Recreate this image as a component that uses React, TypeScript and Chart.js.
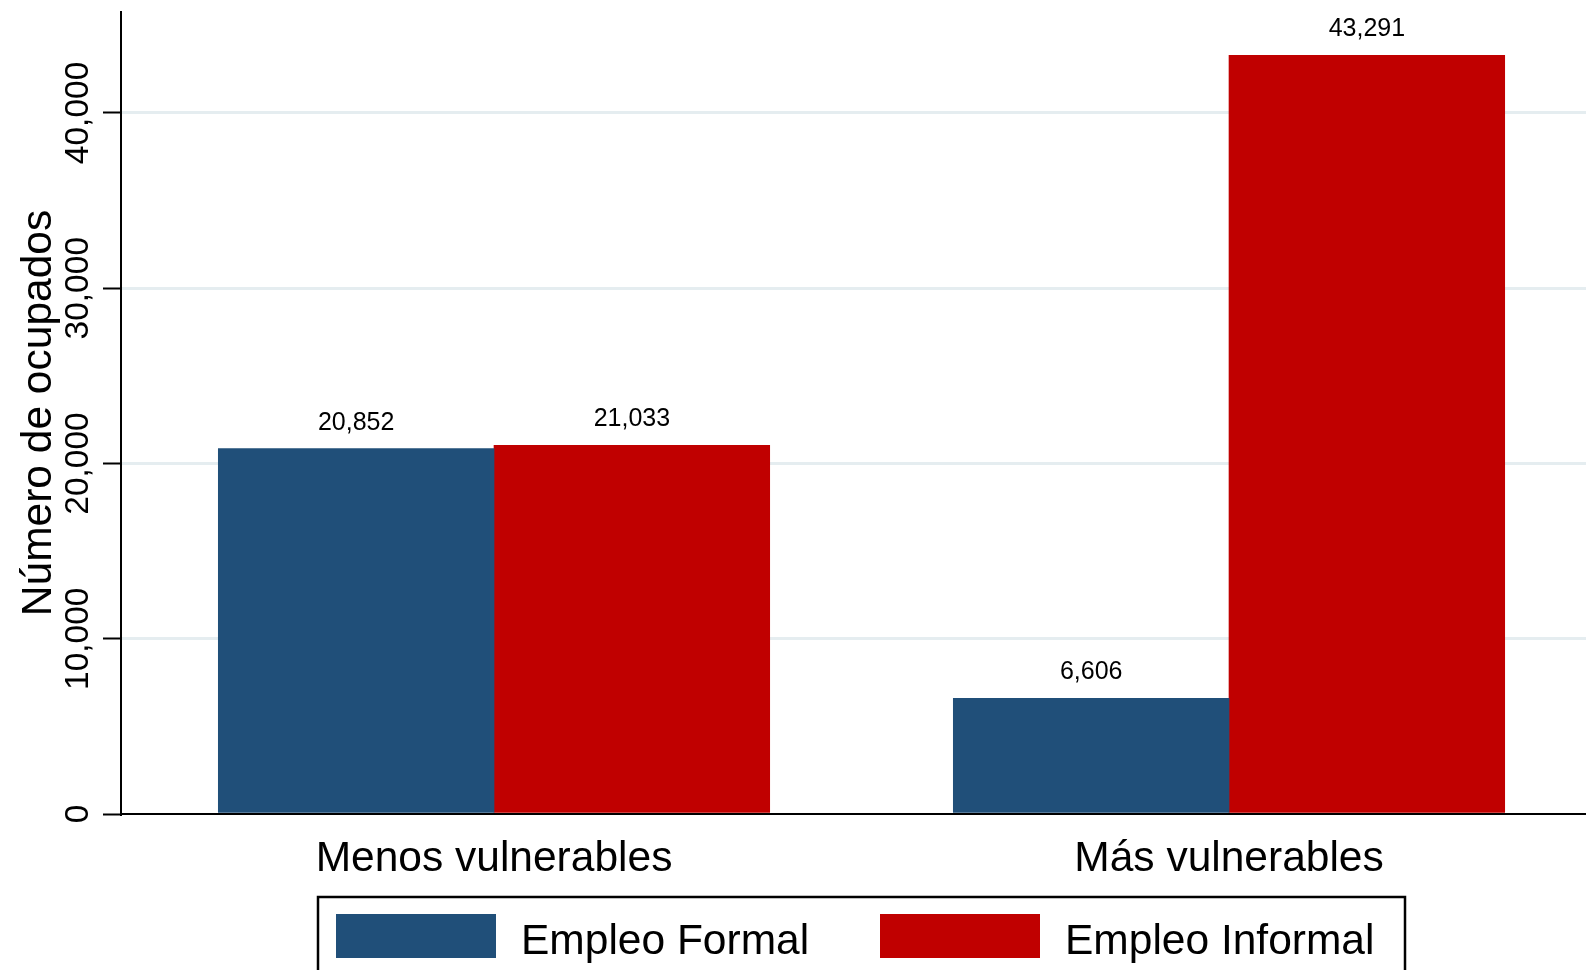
import React, { useEffect, useRef } from "react";
import { Chart, registerables } from "chart.js";

Chart.register(...registerables);

const categories = ["Menos vulnerables", "Más vulnerables"];
const seriesNames = ["Empleo Formal", "Empleo Informal"];
const formalValues = [20852, 6606];
const informalValues = [21033, 43291];
const yTicks = [0, 10000, 20000, 30000, 40000];
const yTitle = "Número de ocupados";
const seriesColors = ["#204f79", "#c00000"];

const FONT = "'Liberation Sans', Arial, Helvetica, sans-serif";
const fmt = (v: number) => v.toLocaleString("en-US");

const customDraw = {
  id: "customDraw",
  afterDatasetsDraw(chart: any) {
    const ctx = chart.ctx;
    chart.data.datasets.forEach((ds: any, di: number) => {
      const meta = chart.getDatasetMeta(di);
      meta.data.forEach((bar: any, i: number) => {
        const v = ds.data[i].y;
        ctx.save();
        ctx.font = `25px ${FONT}`;
        ctx.fillStyle = "#000";
        ctx.textAlign = "center";
        ctx.textBaseline = "alphabetic";
        ctx.fillText(fmt(v), bar.x, bar.y - 19);
        ctx.restore();
      });
    });
  },
  afterDraw(chart: any) {
    const ctx = chart.ctx;
    const ys = chart.scales.y;
    // rotated y tick labels
    yTicks.forEach((t) => {
      const py = ys.getPixelForValue(t);
      ctx.save();
      ctx.translate(ys.right - 33, py);
      ctx.rotate(-Math.PI / 2);
      ctx.font = `33.5px ${FONT}`;
      ctx.fillStyle = "#000";
      ctx.textAlign = "center";
      ctx.textBaseline = "alphabetic";
      ctx.fillText(fmt(t), 0, 0);
      ctx.restore();
    });
    // legend box
    ctx.save();
    ctx.strokeStyle = "#000";
    ctx.lineWidth = 2.5;
    ctx.strokeRect(318, 897, 1405 - 318, 120);
    const items = [
      { sx: 336, tx: 521 },
      { sx: 880, tx: 1065 },
    ];
    chart.data.datasets.forEach((ds: any, i: number) => {
      const it = items[i];
      ctx.fillStyle = ds.backgroundColor;
      ctx.fillRect(it.sx, 914, 160, 44);
      ctx.font = `42.5px ${FONT}`;
      ctx.fillStyle = "#000";
      ctx.textAlign = "left";
      ctx.textBaseline = "alphabetic";
      ctx.fillText(ds.label, it.tx, 954);
    });
    ctx.restore();
  },
};

export default function App() {
  const ref = useRef<HTMLCanvasElement | null>(null);
  useEffect(() => {
    if (!ref.current) return;
    const chart = new Chart(ref.current, {
      type: "bar",
      data: {
        datasets: [
          {
            label: seriesNames[0],
            data: formalValues.map((v, i) => ({ x: i + 1, y: v })),
            backgroundColor: seriesColors[0],
            barThickness: 275.7,
          },
          {
            label: seriesNames[1],
            data: informalValues.map((v, i) => ({ x: i + 1, y: v })),
            backgroundColor: seriesColors[1],
            barThickness: 275.7,
          },
        ],
      } as any,
      options: {
        animation: false,
        responsive: true,
        maintainAspectRatio: false,
        layout: { padding: { top: 12, left: 0, right: 0, bottom: 0 } },
        plugins: {
          legend: { display: false },
          tooltip: { enabled: false },
        },
        scales: {
          x: {
            type: "linear",
            offset: false,
            min: 0.4925,
            max: 2.4857,
            afterBuildTicks: (s: any) => {
              s.ticks = categories.map((_, i) => ({ value: i + 1 }));
            },
            afterFit: (s: any) => {
              s.height = 156;
            },
            ticks: {
              autoSkip: false,
              maxRotation: 0,
              minRotation: 0,
              padding: 20,
              color: "#000",
              font: { family: FONT, size: 42.5 },
              callback: (v: any) => categories[Math.round(Number(v)) - 1] ?? "",
            },
            grid: { display: false, drawTicks: false, offset: false },
            border: { display: true, color: "#000", width: 2 },
          },
          y: {
            type: "linear",
            min: 0,
            max: 45760,
            afterBuildTicks: (s: any) => {
              s.ticks = yTicks.map((v) => ({ value: v }));
            },
            afterFit: (s: any) => {
              s.width = 121;
            },
            ticks: { display: false },
            grid: {
              color: (c: any) => (c.tick && c.tick.value === 0 ? "rgba(0,0,0,0)" : "#e5edf0"),
              lineWidth: 3,
              tickColor: "#000",
              tickLength: 18,
              tickWidth: 2,
              drawTicks: true,
            },
            border: { display: true, color: "#000", width: 2 },
            title: {
              display: true,
              text: yTitle,
              color: "#000",
              font: { family: FONT, size: 42.5 },
              padding: { top: 14, bottom: 0 },
            },
          },
        },
      } as any,
      plugins: [customDraw],
    });
    return () => chart.destroy();
  }, []);
  return (
    <div
      style={{
        position: "fixed",
        left: 0,
        top: 0,
        width: 1586,
        height: 970,
        overflow: "hidden",
        background: "#fff",
      }}
    >
      <canvas ref={ref} />
    </div>
  );
}
